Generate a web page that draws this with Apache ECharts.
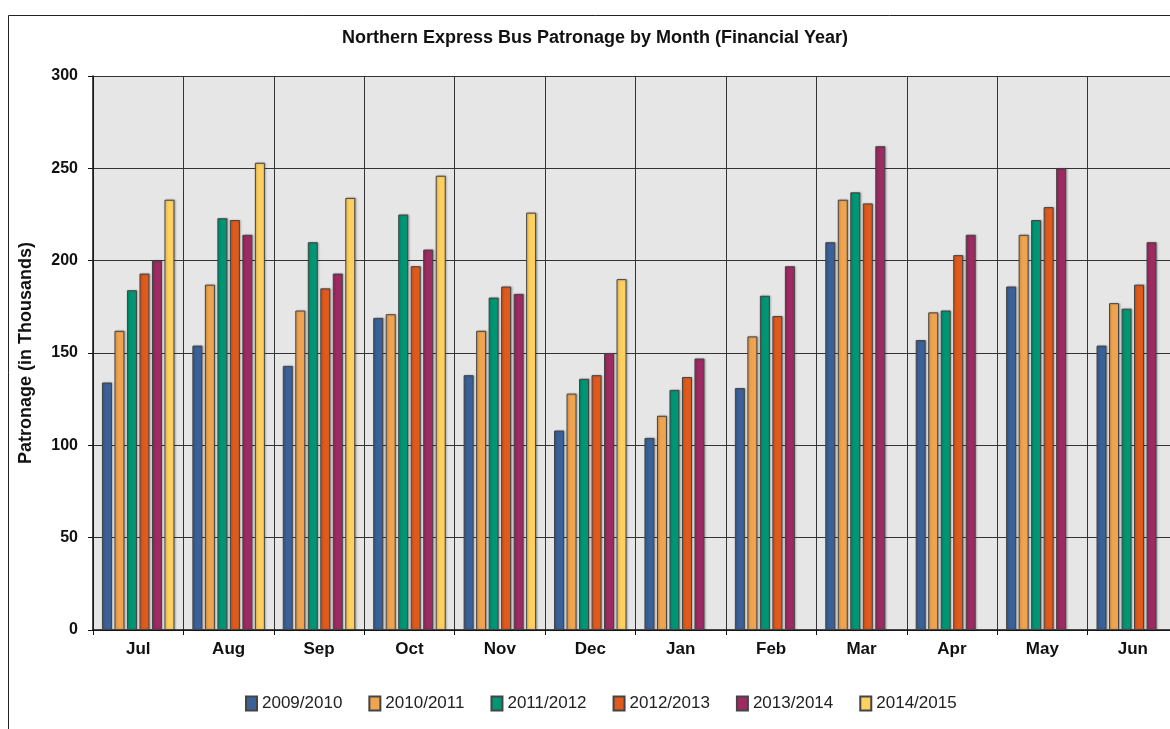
<!DOCTYPE html>
<html>
<head>
<meta charset="utf-8">
<script src="https://cdn.jsdelivr.net/npm/echarts@6/dist/echarts.min.js"></script>
<style>
  html, body { margin: 0; padding: 0; background: #fff; overflow: hidden; }
  #chart { width: 1182px; height: 729px; }
</style>
</head>
<body>
<div id="chart"></div>
<script>
// months of the financial year
const months = ["Jul", "Aug", "Sep", "Oct", "Nov", "Dec", "Jan", "Feb", "Mar", "Apr", "May", "Jun"];
const years = ["2009/2010", "2010/2011", "2011/2012", "2012/2013", "2013/2014", "2014/2015"];

// patronage in thousands
const fy0910 = [134, 154, 143, 169, 138, 108, 104, 131, 210, 157, 186, 154];
const fy1011 = [162, 187, 173, 171, 162, 128, 116, 159, 233, 172, 214, 177];
const fy1112 = [184, 223, 210, 225, 180, 136, 130, 181, 237, 173, 222, 174];
const fy1213 = [193, 222, 185, 197, 186, 138, 137, 170, 231, 203, 229, 187];
const fy1314 = [200, 214, 193, 206, 182, 150, 147, 197, 262, 214, 250, 210];
const fy1415 = [233, 253, 234, 246, 226, 190, null, null, null, null, null, null];

const yTicks = [0, 50, 100, 150, 200, 250, 300];

const colors = ["#3a6198", "#f0a44f", "#009674", "#e05a1c", "#9e2a62", "#fdd060"];
const seriesData = [fy0910, fy1011, fy1112, fy1213, fy1314, fy1415];

const chart = echarts.init(document.getElementById("chart"));

const font = "'Liberation Sans', Arial, sans-serif";

const option = {
	animation: false,
	color: colors,
	textStyle: { fontFamily: font },
	title: {
		text: "Northern Express Bus Patronage by Month (Financial Year)",
		left: 337,
		top: 24,
		textStyle: { fontSize: 18, fontWeight: "bold", color: "#111", fontFamily: font },
	},
	graphic: [
		{
			type: "rect",
			shape: { x: 8.5, y: 15.5, width: 1300, height: 900 },
			style: { fill: "none", stroke: "#222", lineWidth: 1 },
			silent: true,
		},
	],
	legend: {
		top: 690,
		left: 240,
		itemWidth: 11,
		itemHeight: 14,
		itemGap: 26,
		icon: "rect",
		textStyle: { fontSize: 17, color: "#222", fontFamily: font },
		data: years,
	},
	grid: {
		left: 93,
		right: 4,
		top: 76,
		bottom: 99,
		backgroundColor: "#e6e6e6",
		show: true,
		borderWidth: 0,
	},
	xAxis: {
		type: "category",
		data: months,
		axisLine: { lineStyle: { color: "#111", width: 1.5 } },
		axisTick: { show: true, length: 5, lineStyle: { color: "#111" } },
		splitLine: { show: true, lineStyle: { color: "#333", width: 1 } },
		axisLabel: { fontSize: 17, fontWeight: "bold", color: "#111", margin: 11 },
	},
	yAxis: {
		type: "value",
		min: 0,
		max: 300,
		interval: 50,
		name: "Patronage (in Thousands)",
		nameLocation: "middle",
		nameGap: 58,
		nameTextStyle: { fontSize: 18, fontWeight: "bold", color: "#111" },
		axisLine: { show: true, lineStyle: { color: "#111", width: 1.5 } },
		axisTick: { show: true, length: 5, lineStyle: { color: "#111" } },
		splitLine: { show: true, lineStyle: { color: "#333", width: 1 } },
		axisLabel: {
			fontSize: 16,
			fontWeight: "bold",
			color: "#111",
			margin: 15,
			formatter: (v) => (yTicks.indexOf(v) > -1 ? String(v) : ""),
		},
	},
	series: years.map((name, i) => ({
		name,
		type: "bar",
		data: seriesData[i],
		barWidth: 10,
		barGap: "25%",
		itemStyle: {
			color: colors[i],
			borderColor: "#444",
			borderWidth: 1,
			shadowColor: "rgba(0,0,0,0.25)",
			shadowBlur: 2,
			shadowOffsetX: 1,
		},
	})),
};

chart.setOption(option);
</script>
</body>
</html>
